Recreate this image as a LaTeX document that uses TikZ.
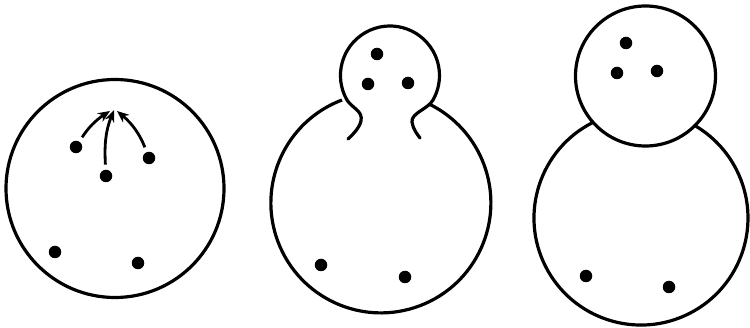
\documentclass[tikz,border=0pt]{standalone}
\usetikzlibrary{arrows.meta}
\begin{document}
\begin{tikzpicture}[x=1pt,y=1pt,
  outline/.style={line width=3.2pt},
  dot/.style={circle,fill=black,inner sep=0pt,minimum size=12.5pt},
  pull/.style={line width=2.8pt,-{Stealth[length=12pt,width=10pt]},shorten <=5pt}]
\useasboundingbox (0,0) rectangle (750,-328);
% ---------- figure 1 ----------
\draw[outline] (115,-188.5) circle[radius=109pt];
\node[dot] (a1) at (76,-147) {};
\node[dot] (a2) at (106,-176) {};
\node[dot] (a3) at (149,-158) {};
\node[dot] (a4) at (55,-252) {};
\node[dot] (a5) at (138,-263) {};
\coordinate (t1) at (110,-111);
\coordinate (t2) at (114,-110);
\coordinate (t3) at (117,-111);
\draw[pull] (a1) to[bend left=12] (t1);
\draw[pull] (a2) to[out=93,in=-112] (t2);
\draw[pull] (a3) to[bend right=14] (t3);
% ---------- figure 2 ----------
\draw[outline] (342,-100) arc[start angle=110.7,end angle=423.4,radius=110pt];
\draw[outline,line cap=round]
  (348,-139) .. controls (352,-135) and (359,-129) .. (361,-121)
  .. controls (363,-111) and (353,-108.7) .. (347.1,-100.25)
  arc[start angle=210,end angle=-30,radius=49.5pt]
  .. controls (428,-109) and (411,-113) .. (412,-122)
  .. controls (413,-129) and (417,-134) .. (420,-138);
\node[dot] (b1) at (377,-54) {};
\node[dot] (b2) at (368,-84) {};
\node[dot] (b3) at (408,-83) {};
\node[dot] (b4) at (321,-265) {};
\node[dot] (b5) at (405,-277) {};
% ---------- figure 3 ----------
\draw[outline] (645.5,-76) circle[radius=70pt];
\draw[outline] (592.4,-122.7) arc[start angle=117,end angle=419.5,radius=107pt];
\node[dot] (c1) at (626,-43) {};
\node[dot] (c2) at (617,-73) {};
\node[dot] (c3) at (657,-71) {};
\node[dot] (c4) at (586,-276) {};
\node[dot] (c5) at (669,-287) {};
\end{tikzpicture}
\end{document}
